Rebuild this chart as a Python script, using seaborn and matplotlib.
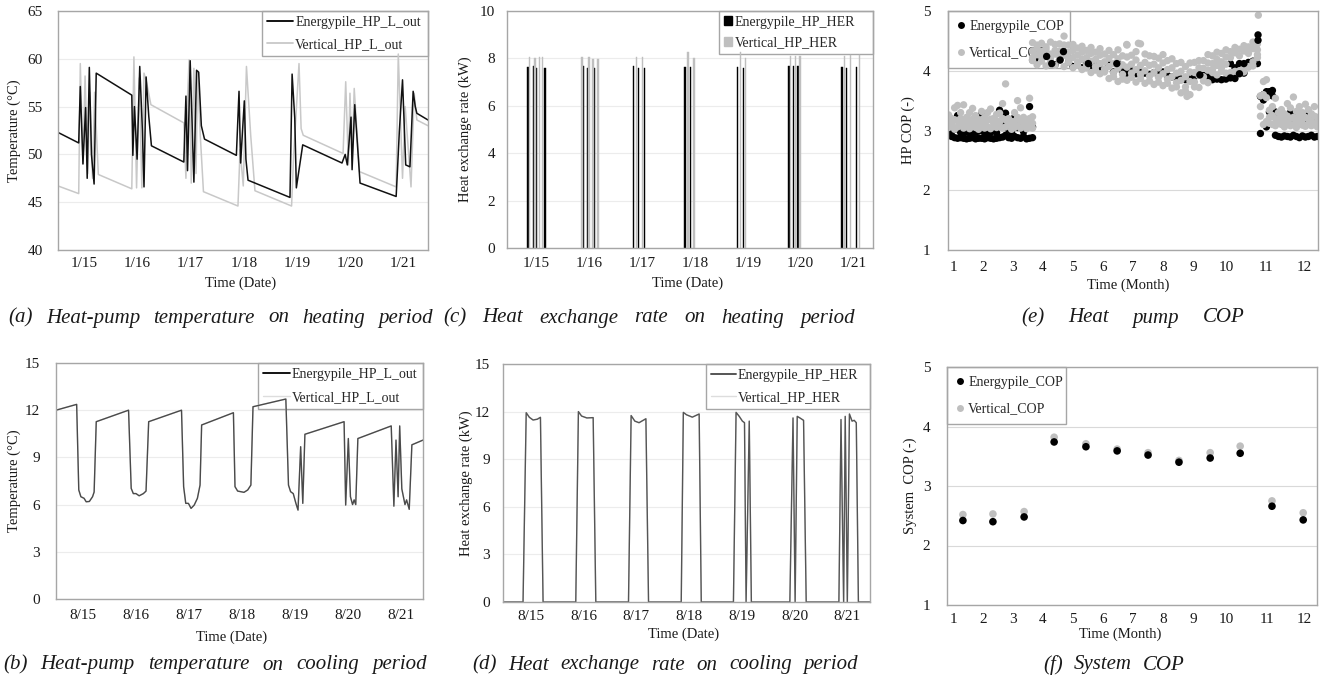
import numpy as np
import pandas as pd
import matplotlib
matplotlib.use('Agg')
import matplotlib.pyplot as plt
import seaborn as sns
from matplotlib.lines import Line2D
from matplotlib.patches import Patch

sns.set_theme(style='white')
plt.rcParams['font.family'] = ['Liberation Serif', 'DejaVu Serif']

# ---------------- data ----------------
# x axis of the daily panels is "day of month" (15 -> 1/15 or 8/15)
day_ticks = [15, 16, 17, 18, 19, 20, 21]
jan_labels = ['1/15', '1/16', '1/17', '1/18', '1/19', '1/20', '1/21']
aug_labels = ['8/15', '8/16', '8/17', '8/18', '8/19', '8/20', '8/21']

# (a) heat pump outlet temperature, heating period
heat_day_ep = [14.50, 14.89, 14.92, 14.97, 15.02, 15.05, 15.09, 15.13, 15.18, 15.22,
               15.89, 15.91, 15.94, 15.99, 16.04, 16.09, 16.12, 16.16, 16.21, 16.26,
               16.87, 16.91, 16.94, 16.99, 17.06, 17.11, 17.15, 17.20, 17.26,
               17.86, 17.91, 17.94, 18.01, 18.04, 18.08,
               18.87, 18.91, 18.96, 18.99, 19.11,
               19.85, 19.91, 19.95, 20.02, 20.04, 20.09, 20.19,
               20.87, 20.89, 20.93, 20.99, 21.05, 21.13, 21.19, 21.23, 21.26, 21.47]
heat_temp_ep = [52.3, 51.2, 57.1, 49.0, 54.9, 47.5, 59.1, 50.0, 46.9, 58.5,
                56.2, 49.9, 55.0, 49.5, 59.2, 52.5, 46.6, 58.1, 54.0, 50.9,
                49.2, 56.1, 48.3, 59.8, 47.1, 58.8, 58.6, 53.0, 51.6,
                49.9, 56.6, 49.1, 55.6, 49.5, 47.3,
                45.5, 58.4, 53.8, 46.5, 51.0,
                49.1, 50.0, 48.9, 53.9, 48.4, 55.2, 47.0,
                45.6, 47.8, 52.4, 57.8, 48.9, 48.7, 56.6, 55.0, 54.3, 53.6]
heat_day_vt = [14.50, 14.89, 14.92, 14.97, 15.01, 15.06, 15.10, 15.15, 15.19, 15.26,
               15.89, 15.93, 15.98, 16.03, 16.08, 16.12, 16.17, 16.25,
               16.87, 16.91, 16.94, 16.97, 17.01, 17.06, 17.10, 17.13, 17.18, 17.24,
               17.89, 17.93, 17.99, 18.05, 18.13, 18.21,
               18.90, 18.94, 19.04, 19.08, 19.12,
               19.87, 19.92, 19.97, 20.00, 20.04, 20.08, 20.18,
               20.87, 20.91, 20.99, 21.04, 21.15, 21.21, 21.26, 21.47]
heat_temp_vt = [46.7, 45.9, 59.5, 49.0, 58.2, 48.0, 56.5, 47.5, 56.5, 47.9,
                46.4, 60.2, 46.5, 58.0, 46.5, 58.5, 57.5, 55.2,
                53.3, 47.5, 56.0, 59.9, 47.0, 59.0, 48.0, 58.7, 52.0, 46.1,
                44.6, 50.5, 46.7, 59.2, 52.0, 46.2,
                44.6, 50.0, 59.5, 52.7, 52.0,
                50.1, 57.6, 48.9, 56.4, 49.5, 56.9, 48.2,
                46.6, 60.5, 47.5, 55.0, 46.6, 56.4, 53.6, 53.0]

# (b) heat pump outlet temperature, cooling period (both systems overlap)
cool_day = [14.49, 14.88, 14.92, 14.96, 15.02, 15.06, 15.12, 15.18, 15.21, 15.25,
            15.86, 15.91, 15.95, 16.00, 16.06, 16.14, 16.19, 16.24,
            16.86, 16.90, 16.94, 16.99, 17.04, 17.10, 17.16, 17.21, 17.24,
            17.84, 17.87, 17.92, 17.98, 18.04, 18.11, 18.17, 18.21,
            18.83, 18.88, 18.92, 18.97, 19.02, 19.06, 19.11, 19.15, 19.19,
            19.93, 19.96, 20.01, 20.05, 20.09, 20.12, 20.15, 20.19,
            20.82, 20.87, 20.91, 20.95, 20.98, 21.02, 21.08, 21.11, 21.16, 21.21, 21.42]
cool_temp_ep = [12.0, 12.37, 6.93, 6.5, 6.4, 6.18, 6.2, 6.5, 6.8, 11.27,
                12.0, 7.03, 6.7, 6.7, 6.56, 6.7, 6.86, 11.27,
                12.0, 7.14, 6.08, 6.08, 5.76, 5.97, 6.4, 7.24, 11.06,
                11.84, 7.14, 6.86, 6.82, 6.78, 6.93, 7.24, 12.22,
                12.71, 7.24, 6.82, 6.7, 6.08, 5.65, 9.68, 6.08, 10.47,
                11.27, 5.97, 10.2, 6.5, 6.0, 6.3, 6.0, 10.2,
                11.0, 5.9, 10.1, 6.5, 11.0, 7.0, 6.0, 6.3, 5.7, 9.8, 10.1]
cool_temp_vt = list(cool_temp_ep)

# (c) heat exchange rate, heating period (bars)
her_day_ep = [14.84, 14.94, 15.00, 15.16, 15.88, 15.97, 16.10, 16.83, 16.93, 17.04,
              17.81, 17.91, 18.81, 18.92, 19.78, 19.87, 19.95, 20.78, 20.87, 21.06]
her_ep = [7.65, 7.70, 7.58, 7.58, 7.70, 7.58, 7.58, 7.68, 7.58, 7.58,
          7.65, 7.65, 7.62, 7.60, 7.70, 7.70, 7.70, 7.62, 7.58, 7.65]
her_day_vt = [14.87, 14.97, 15.05, 15.11, 15.86, 15.99, 16.07, 16.16, 16.89, 17.01,
              17.87, 17.98, 18.86, 18.96, 19.81, 19.90, 19.99, 20.83, 20.94, 21.12]
her_vt = [8.05, 8.00, 8.05, 8.05, 8.05, 8.05, 7.98, 7.98, 8.05, 8.05,
          8.28, 8.00, 8.28, 8.00, 8.10, 8.10, 8.10, 8.10, 8.15, 8.15]

# (d) heat exchange rate, cooling period (both systems overlap)
cool_her_day = [14.47, 14.85, 14.91, 14.97, 15.04, 15.12, 15.18, 15.23,
                15.85, 15.90, 15.96, 16.06, 16.18, 16.23,
                16.85, 16.90, 16.97, 17.05, 17.18, 17.23,
                17.85, 17.89, 17.95, 18.06, 18.19, 18.23,
                18.84, 18.89, 18.95, 19.01, 19.05, 19.08, 19.14, 19.18,
                19.91, 19.97, 20.01, 20.05, 20.10, 20.17, 20.22,
                20.84, 20.88, 20.93, 20.96, 21.00, 21.04, 21.09, 21.13, 21.17, 21.21, 21.43]
cool_her_ep = [0, 0, 11.93, 11.64, 11.47, 11.52, 11.64, 0,
               0, 12.0, 11.72, 11.6, 11.62, 0,
               0, 11.75, 11.4, 11.3, 11.55, 0,
               0, 11.95, 11.8, 11.65, 11.85, 0,
               0, 11.95, 11.7, 11.4, 11.3, 0, 11.4, 0,
               0, 11.6, 0, 11.7, 11.6, 11.45, 0,
               0, 11.5, 0, 11.7, 0, 11.85, 11.4, 11.45, 11.3, 0, 0]
cool_her_vt = list(cool_her_ep)

# (e) hourly heat pump COP; sampling times in month-axis units
month_tick_pos = [1, 2, 3, 4, 5, 6, 7, 8, 9, 10.1, 11.45, 12.7]
month_labels = [str(m) for m in range(1, 13)]
heat1_t = np.round(np.arange(0.85, 3.66, 0.10), 2)
cool_t = np.round(np.arange(3.65, 11.16, 0.15), 2)
heat2_t = np.round(np.arange(11.25, 13.16, 0.10), 2)

ep_h1_lo = [2.93, 2.90, 2.88, 2.87, 2.88, 2.87, 2.86, 2.87, 2.88, 2.86, 2.87, 2.87, 2.86, 2.88, 2.87,
            2.86, 2.87, 2.88, 2.89, 2.92, 2.88, 2.87, 2.90, 2.88, 2.87, 2.90, 2.86, 2.87, 2.88]
ep_h1_hi = [2.96, 2.98, 3.02, 3.25, 2.97, 2.95, 3.05, 2.96, 3.00, 2.97, 2.99, 3.28, 2.96, 3.04, 2.97,
            3.00, 2.96, 3.34, 3.10, 3.29, 3.02, 2.97, 3.22, 3.05, 3.12, 2.98, 3.08, 3.40, 3.06]
vt_h1_lo = [3.05, 3.08, 3.02, 3.06, 3.10, 3.04, 3.07, 3.03, 3.08, 3.05, 3.02, 3.09, 3.04, 3.06, 3.03,
            3.08, 3.05, 3.07, 3.04, 3.06, 3.10, 3.02, 3.05, 3.08, 3.04, 3.07, 3.03, 3.06, 3.04]
vt_h1_mid = [3.15, 3.14, 3.18, 3.16, 3.20, 3.15, 3.13, 3.17, 3.19, 3.14, 3.12, 3.18, 3.15, 3.17, 3.19,
             3.13, 3.16, 3.14, 3.20, 3.18, 3.12, 3.08, 3.15, 3.22, 3.16, 3.12, 3.10, 3.20, 3.12]
vt_h1_hi = [3.26, 3.20, 3.38, 3.42, 3.30, 3.43, 3.22, 3.30, 3.37, 3.25, 3.18, 3.32, 3.22, 3.30, 3.36,
            3.20, 3.27, 3.29, 3.45, 3.78, 3.20, 3.15, 3.30, 3.50, 3.38, 3.22, 3.18, 3.54, 3.23]

ep_cool = [4.18, 4.15, 4.22, 4.24, 4.12, 4.10, 4.18, 4.32, 4.14, 4.07, 4.10, 4.05, 4.12, 4.04, 4.08,
           4.05, 4.02, 4.10, 3.98, 4.12, 3.98, 3.96, 4.00, 3.95, 3.98, 3.96, 3.94, 3.97, 3.93, 3.98,
           3.92, 3.90, 3.88, 3.86, 3.85, 3.86, 3.90, 3.93, 3.92, 3.90, 3.85, 3.86, 3.85, 3.86, 4.12,
           4.05, 4.12, 3.96, 4.14, 4.16, 4.12]
vt_cool_a = [4.17, 4.10, 4.16, 4.08, 4.15, 4.09, 4.18, 4.07, 4.14, 4.05, 4.09, 4.02, 4.05, 3.97, 4.01,
             3.95, 3.98, 3.87, 3.90, 3.82, 3.86, 3.84, 3.89, 3.81, 3.87, 3.79, 3.83, 3.77, 3.81, 3.75,
             3.79, 3.71, 3.73, 3.63, 3.66, 3.60, 3.73, 3.72, 3.83, 3.80, 3.97, 3.93, 3.99, 3.96, 3.93,
             3.90, 3.97, 3.98, 4.07, 4.08, 4.22]
vt_cool_b = [4.22, 4.27, 4.23, 4.25, 4.21, 4.28, 4.22, 4.26, 4.20, 4.22, 4.14, 4.19, 4.10, 4.16, 4.07,
             4.12, 4.03, 4.07, 3.97, 4.04, 3.94, 4.06, 3.96, 4.02, 3.94, 4.00, 3.91, 3.97, 3.89, 3.95,
             3.86, 3.90, 3.80, 3.84, 3.73, 3.82, 3.81, 3.92, 3.90, 4.01, 4.02, 4.09, 4.05, 4.11, 3.97,
             3.99, 4.00, 4.05, 4.06, 4.15, 4.27]
vt_cool_c = [4.33, 4.38, 4.32, 4.36, 4.28, 4.34, 4.33, 4.43, 4.31, 4.34, 4.26, 4.31, 4.22, 4.29, 4.19,
             4.26, 4.15, 4.21, 4.12, 4.20, 4.10, 4.23, 4.11, 4.18, 4.09, 4.14, 4.09, 4.11, 4.05, 4.13,
             4.02, 4.05, 3.96, 3.99, 3.90, 3.98, 3.97, 4.05, 4.04, 4.13, 4.12, 4.19, 4.15, 4.23, 4.22,
             4.30, 4.25, 4.33, 4.29, 4.37, 4.35]
vt_cool_d = [4.47, 4.43, 4.46, 4.40, 4.48, 4.44, 4.45, 4.58, 4.43, 4.44, 4.38, 4.41, 4.34, 4.39, 4.31,
             4.37, 4.28, 4.34, 4.27, 4.35, 4.25, 4.43, 4.26, 4.32, 4.45, 4.28, 4.25, 4.24, 4.21, 4.27,
             4.17, 4.20, 4.12, 4.14, 4.07, 4.13, 4.14, 4.17, 4.17, 4.27, 4.25, 4.31, 4.29, 4.35, 4.32,
             4.39, 4.36, 4.42, 4.40, 4.48, 4.45]

ep_h2_lo = [2.95, 3.51, 3.06, 3.31, 3.58, 2.92, 2.90, 2.89, 2.91, 2.90,
            2.89, 2.92, 2.90, 2.88, 2.91, 2.89, 2.90, 2.92, 2.89, 2.90]
ep_h2_hi = [3.57, 3.60, 3.65, 3.65, 3.67, 3.31, 3.25, 3.28, 3.15, 3.22,
            3.30, 3.18, 3.26, 3.12, 3.28, 3.20, 3.25, 3.15, 3.22, 3.18]
vt_h2_lo = [3.24, 3.10, 3.15, 3.12, 3.10, 3.08, 3.12, 3.10, 3.06, 3.12,
            3.08, 3.10, 3.05, 3.12, 3.09, 3.07, 3.11, 3.08, 3.10, 3.06]
vt_h2_mid = [3.40, 3.60, 3.55, 3.22, 3.25, 3.20, 3.18, 3.22, 3.16, 3.24,
             3.20, 3.22, 3.18, 3.25, 3.18, 3.22, 3.20, 3.16, 3.24, 3.14]
vt_h2_hi = [3.58, 3.82, 3.85, 3.34, 3.40, 3.54, 3.30, 3.35, 3.28, 3.45,
            3.38, 3.56, 3.32, 3.40, 3.30, 3.44, 3.35, 3.28, 3.40, 3.22]

ep_extra_t = [4.12, 4.29, 4.57, 4.68, 5.51, 6.46, 9.23, 10.25, 10.40, 10.55, 10.70, 11.17, 11.17]
ep_extra = [4.24, 4.12, 4.18, 4.32, 4.12, 4.12, 3.93, 3.88, 3.87, 3.95, 4.12, 4.60, 4.51]
vt_extra_t = [11.18, 6.79, 7.18, 8.80]
vt_extra = [4.93, 4.44, 4.46, 3.57]

# (f) monthly system COP
sys_t = [1.33, 2.33, 3.37, 4.37, 5.43, 6.47, 7.50, 8.53, 9.57, 10.57, 11.63, 12.67]
sys_cop_ep = [2.42, 2.40, 2.48, 3.74, 3.66, 3.59, 3.52, 3.40, 3.47, 3.55, 2.66, 2.43]
sys_cop_vt = [2.52, 2.53, 2.57, 3.82, 3.71, 3.62, 3.56, 3.43, 3.56, 3.67, 2.75, 2.55]

# ---------------- figure ----------------
W, H = 1323, 679
fig = plt.figure(figsize=(W / 100, H / 100), dpi=100)
BLACK, GREY = '#000000', '#bfbfbf'


def rect(box):
    l, t, r, b = box
    return [l / W, 1 - b / H, (r - l) / W, (b - t) / H]


def style(ax, box, ylim, yticks, grid_c, ypad, xpad, xlabel, ylabel, xl_cx, xl_top, yl_right):
    l, t, r, b = box
    ax.set_ylim(ylim)
    ax.set_yticks(yticks)
    ax.tick_params(length=0, labelsize=11, colors='#1a1a1a')
    ax.tick_params(axis='y', pad=ypad)
    ax.tick_params(axis='x', pad=xpad)
    ax.grid(False)
    ax.yaxis.grid(True, color=grid_c, lw=0.8)
    ax.set_axisbelow(True)
    for s in ax.spines.values():
        s.set_color('#a6a6a6')
        s.set_linewidth(1)
    ax.set_xlabel(xlabel, fontsize=10.5, color='#1a1a1a')
    ax.set_ylabel(ylabel, fontsize=10.5, color='#1a1a1a')
    ax.xaxis.set_label_coords((xl_cx - l) / (r - l), (b - xl_top) / (b - t))
    ax.yaxis.set_label_coords((yl_right - l) / (r - l), 0.5)


def legend(ax, handles, x0, x1, top, ls, bp, hl, htp, **kw):
    leg = ax.legend(handles=handles, loc='upper left',
                    bbox_to_anchor=(x0 / W, 0, (x1 - x0) / W, 1 - top / H),
                    bbox_transform=fig.transFigure, mode='expand', borderaxespad=0,
                    fancybox=False, framealpha=1, edgecolor='#a6a6a6', fontsize=10,
                    labelspacing=ls, borderpad=bp, handlelength=hl, handletextpad=htp, **kw)
    leg.get_frame().set_linewidth(1)
    leg.set_zorder(0.8)


# (a)
box = (58, 11, 428, 250)
ax = fig.add_axes(rect(box))
sns.lineplot(x=heat_day_vt, y=heat_temp_vt, ax=ax, color='#c8c8c8', lw=1.1,
             estimator=None, sort=False, legend=False)
sns.lineplot(x=heat_day_ep, y=heat_temp_ep, ax=ax, color='#111111', lw=1.1,
             estimator=None, sort=False, legend=False)
ax.set_xlim(14.50, 21.47)
ax.set_xticks(day_ticks, labels=jan_labels)
style(ax, box, (40, 65), range(40, 66, 5), '#ececec', 11, 5,
      'Time (Date)', 'Temperature (°C)', 241, 277, 21)
legend(ax, [Line2D([], [], color='black', lw=1.3, label='Energypile_HP_L_out'),
            Line2D([], [], color='#c8c8c8', lw=1.3, label='Vertical_HP_L_out')],
       262, 428, 11, 0.68, 0.35, 1.9, 0.15)

# (c)
box = (507, 11, 873, 248)
ax = fig.add_axes(rect(box))
ax.bar(her_day_ep, her_ep, width=0.026, color=BLACK, edgecolor=BLACK, lw=0.3, zorder=2)
ax.bar(her_day_vt, her_vt, width=0.026, color=GREY, edgecolor=GREY, lw=0.3, zorder=2)
ax.set_xlim(14.44, 21.37)
ax.set_xticks(day_ticks, labels=jan_labels)
style(ax, box, (0, 10), range(0, 11, 2), '#ececec', 8.4, 6.5,
      'Time (Date)', 'Heat exchange rate (kW)', 688, 277, 472)
legend(ax, [Patch(color=BLACK, label='Energypile_HP_HER'),
            Patch(color=GREY, label='Vertical_HP_HER')],
       719, 873, 11, 0.56, 0.34, 0.6, 0.2, handleheight=0.6)

# (e)
box = (948, 11, 1318, 250)
ax = fig.add_axes(rect(box))
parts = [
    (heat1_t, ep_h1_lo, 'Energypile_COP'), (heat1_t, ep_h1_hi, 'Energypile_COP'),
    (cool_t, ep_cool, 'Energypile_COP'),
    (heat2_t, ep_h2_lo, 'Energypile_COP'), (heat2_t, ep_h2_hi, 'Energypile_COP'),
    (heat1_t, vt_h1_lo, 'Vertical_COP'), (heat1_t, vt_h1_mid, 'Vertical_COP'),
    (heat1_t, vt_h1_hi, 'Vertical_COP'),
    (cool_t, vt_cool_a, 'Vertical_COP'), (cool_t, vt_cool_b, 'Vertical_COP'),
    (cool_t, vt_cool_c, 'Vertical_COP'), (cool_t, vt_cool_d, 'Vertical_COP'),
    (heat2_t, vt_h2_lo, 'Vertical_COP'), (heat2_t, vt_h2_mid, 'Vertical_COP'),
    (heat2_t, vt_h2_hi, 'Vertical_COP'),
    (vt_extra_t, vt_extra, 'Vertical_COP'),
    (ep_extra_t, ep_extra, 'Energypile_COP'),
]
df_e = pd.concat([pd.DataFrame({'month': t, 'cop': v, 'series': s}) for t, v, s in parts],
                 ignore_index=True)
pal = {'Energypile_COP': BLACK, 'Vertical_COP': GREY}
sns.scatterplot(data=df_e, x='month', y='cop', hue='series', palette=pal, s=28,
                linewidth=0, legend=False, ax=ax, zorder=2)
ax.set_xlim(0.83, 13.17)
ax.set_xticks(month_tick_pos, labels=month_labels)
style(ax, box, (1, 5), range(1, 6), '#d9d9d9', 12.7, 8,
      'Time (Month)', 'HP COP (-)', 1128, 279, 915)
mk = dict(marker='o', linestyle='', markersize=5, markeredgewidth=0)
legend(ax, [Line2D([], [], color=BLACK, label='Energypile_COP', **mk),
            Line2D([], [], color=GREY, label='Vertical_COP', **mk)],
       948, 1070, 11, 1.0, 0.62, 0.6, 0.3)

# (b)
box = (56, 363, 423, 599)
ax = fig.add_axes(rect(box))
sns.lineplot(x=cool_day, y=cool_temp_vt, ax=ax, color='#dddddd', lw=1.0,
             estimator=None, sort=False, legend=False)
sns.lineplot(x=cool_day, y=cool_temp_ep, ax=ax, color='#4a4a4a', lw=1.0,
             estimator=None, sort=False, legend=False)
ax.set_xlim(14.49, 21.42)
ax.set_xticks(day_ticks, labels=aug_labels)
style(ax, box, (0, 15), range(0, 16, 3), '#ececec', 11.5, 7,
      'Time (Date)', 'Temperature (°C)', 232, 631, 21)
legend(ax, [Line2D([], [], color='black', lw=1.3, label='Energypile_HP_L_out'),
            Line2D([], [], color='#dddddd', lw=1.0, label='Vertical_HP_L_out')],
       258, 423, 363, 0.75, 0.35, 1.95, 0.15)

# (d)
box = (503, 364, 870, 602)
ax = fig.add_axes(rect(box))
sns.lineplot(x=cool_her_day, y=cool_her_vt, ax=ax, color='#dddddd', lw=1.0,
             estimator=None, sort=False, legend=False)
sns.lineplot(x=cool_her_day, y=cool_her_ep, ax=ax, color='#555555', lw=1.0,
             estimator=None, sort=False, legend=False)
ax.set_xlim(14.47, 21.43)
ax.set_xticks(day_ticks, labels=aug_labels)
style(ax, box, (0, 15), range(0, 16, 3), '#ececec', 9.4, 5.5,
      'Time (Date)', 'Heat exchange rate (kW)', 684, 628, 473)
legend(ax, [Line2D([], [], color='#555555', lw=1.4, label='Energypile_HP_HER'),
            Line2D([], [], color='#dddddd', lw=1.0, label='Vertical_HP_HER')],
       706, 870, 364, 0.68, 0.35, 1.8, 0.15)

# (f)
box = (947, 367, 1317, 605)
ax = fig.add_axes(rect(box))
df_f = pd.concat([pd.DataFrame({'month': sys_t, 'cop': sys_cop_vt, 'series': 'Vertical_COP'}),
                  pd.DataFrame({'month': sys_t, 'cop': sys_cop_ep, 'series': 'Energypile_COP'})],
                 ignore_index=True)
sns.scatterplot(data=df_f, x='month', y='cop', hue='series', palette=pal, s=30,
                linewidth=0, legend=False, ax=ax, zorder=2)
ax.set_xlim(0.80, 13.13)
ax.set_xticks(month_tick_pos, labels=month_labels)
style(ax, box, (1, 5), range(1, 6), '#d9d9d9', 12, 5.5,
      'Time (Month)', 'System  COP (-)', 1120, 628, 917)
legend(ax, [Line2D([], [], color=BLACK, label='Energypile_COP', **mk),
            Line2D([], [], color=GREY, label='Vertical_COP', **mk)],
       947, 1066, 367, 1.0, 0.62, 0.6, 0.3)

# ---------------- captions (justified between two x positions) ----------------
renderer = fig.canvas.get_renderer()


def caption(text, x0, x1, yc, size=15):
    words = text.split()
    arts = [fig.text(0, 1 - yc / H, w, fontsize=size, style='italic', va='center',
                     ha='left', color='#1a1a1a') for w in words]
    widths = [a.get_window_extent(renderer=renderer).width for a in arts]
    gap = (x1 - x0 - sum(widths)) / (len(words) - 1)
    x = x0
    for a, w in zip(arts, widths):
        a.set_x(x / W)
        x += w + gap


caption('(a) Heat-pump temperature on heating period', 8, 433, 318)
caption('(c) Heat exchange rate on heating period', 443, 855, 318)
caption('(e) Heat pump COP', 1021, 1245, 318)
caption('(b) Heat-pump temperature on cooling period', 3, 427, 665)
caption('(d) Heat exchange rate on cooling period', 472, 858, 665)
caption('(f) System COP', 1043, 1185, 665)

fig.savefig('out.png', dpi=100)
